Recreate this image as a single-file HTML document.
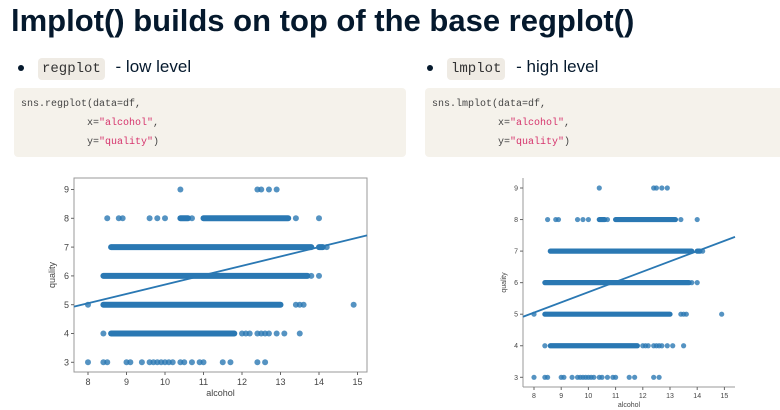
<!DOCTYPE html>
<html><head><meta charset="utf-8"><style>
body{margin:0;width:780px;height:410px;background:#fff;position:relative;overflow:hidden;font-family:"Liberation Sans",sans-serif;}
.abs{position:absolute;}
h1{position:absolute;left:11px;top:3px;margin:0;font-size:31px;font-weight:bold;color:#05192d;letter-spacing:0px;}
.bul{position:absolute;font-size:17px;color:#05192d;}
.bul .dot{display:inline-block;width:6px;height:6px;border-radius:50%;background:#05192d;margin-right:14px;vertical-align:middle;}
.ic{font-family:"Liberation Mono",monospace;font-size:14px;background:#efebe4;border-radius:4px;padding:3px 4px;color:#333;margin-right:6px;}
.code{position:absolute;background:#f5f2eb;border-radius:4px;font-family:"Liberation Mono",monospace;font-size:10px;color:#444;line-height:19px;padding:7px 0 0 7px;box-sizing:border-box;white-space:pre;}
.s{color:#d6336c;}
svg text{font-family:"Liberation Sans",sans-serif;fill:#444;}
</style></head><body>
<h1>lmplot() builds on top of the base regplot()</h1>
<div class="bul" style="left:18px;top:57px"><span class="dot"></span><span class="ic">regplot</span> - low level</div>
<div class="bul" style="left:427px;top:57px"><span class="dot"></span><span class="ic">lmplot</span> - high level</div>
<div class="code" style="left:14px;top:88px;width:392px;height:69px">sns.regplot(data=df,
           x=<span class="s">"alcohol"</span>,
           y=<span class="s">"quality"</span>)</div>
<div class="code" style="left:425px;top:88px;width:360px;height:69px">sns.lmplot(data=df,
           x=<span class="s">"alcohol"</span>,
           y=<span class="s">"quality"</span>)</div>
<svg id="c1" class="abs" style="left:0;top:0" width="780" height="410"></svg>
<script>
const qualities=[9,8,7,6,5,4,3];
const singles=[
 [10.4,12.4,12.5,12.7,12.9],
 [8.5,8.8,8.9,9.6,9.8,10.0,10.7,13.4,14.0],
 [14.2],
 [13.8,14.0],
 [8.0,13.4,13.5,13.6,14.9],
 [8.4,12.0,12.1,12.2,12.4,12.5,12.6,12.7,12.9,13.1,13.5],
 [8.0,8.4,8.5,9.0,9.1,9.4,9.6,9.7,9.8,9.9,10.0,10.1,10.2,10.4,10.5,10.7,10.9,11.0,11.5,11.7,12.4,12.6]
];
const denseRanges=[
 [],
 [[10.4,10.6],[11.0,13.2]],
 [[8.6,13.8],[14.0,14.1]],
 [[8.4,13.7]],
 [[8.4,13.0]],
 [[8.6,11.8]],
 []
];
const xTicks=[8,9,10,11,12,13,14,15];
const yTicks=[3,4,5,6,7,8,9];
const regIntercept=2.45, regSlope=0.325;
const NS="http://www.w3.org/2000/svg";
const svg=document.getElementById('c1');
function mk(t,a,p){const e=document.createElementNS(NS,t);for(const k in a)e.setAttribute(k,a[k]);(p||svg).appendChild(e);return e;}
function chart(o){
 const g=mk('g',{});
 
 
 const X=v=>o.x0+(v-8)*o.xu, Y=v=>o.y3-(v-3)*o.yu;
 if(o.box){const r=mk('rect',{x:o.L,y:o.T,width:o.R-o.L,height:o.B-o.T,fill:'none',stroke:'#999','stroke-width':1},g);
  }
 else{mk('line',{x1:o.L,y1:o.T,x2:o.L,y2:o.B,stroke:'#999'},g);mk('line',{x1:o.L,y1:o.B,x2:o.R,y2:o.B,stroke:'#999'},g);}
 xTicks.forEach(t=>{mk('line',{x1:X(t),x2:X(t),y1:o.B,y2:o.B+3,stroke:'#666'},g);
  const tx=mk('text',{x:X(t),y:o.B+4+o.fs,'font-size':o.fs,'text-anchor':'middle'},g);tx.textContent=t;
  });
 yTicks.forEach(t=>{mk('line',{x1:o.L-3,x2:o.L,y1:Y(t),y2:Y(t),stroke:'#666'},g);
  const tx=mk('text',{x:o.L-5,y:Y(t)+o.fs*0.35,'font-size':o.fs,'text-anchor':'end'},g);tx.textContent=t;
  });
 const xl=mk('text',{x:(o.L+o.R)/2,y:o.B+2*o.fs+6,'font-size':o.fs,'text-anchor':'middle'},g);xl.textContent='alcohol';
 
 const yl=mk('text',{x:0,y:0,'font-size':o.fs,'text-anchor':'middle',transform:`translate(${o.L-o.fs-10},${(o.T+o.B)/2}) rotate(-90)`},g);yl.textContent='quality';
 
 qualities.forEach((q,i)=>{
  denseRanges[i].forEach(([a,b])=>{
   const r=mk('line',{x1:X(a),x2:X(b),y1:Y(q),y2:Y(q),stroke:'#2a78b3','stroke-width':o.r*2,'stroke-linecap':'round'},g);
   });
  singles[i].forEach(v=>{
   const c=mk('circle',{cx:X(v),cy:Y(q),r:o.r,fill:'#2a78b3','fill-opacity':0.8},g);
   });
 });
 const xa=8+(o.L-o.x0)/o.xu, xb=8+(o.R-o.x0)/o.xu;
 const ln=mk('line',{x1:o.L,y1:Y(regIntercept+regSlope*xa),x2:o.R,y2:Y(regIntercept+regSlope*xb),stroke:'#2a78b3','stroke-width':1.8},g);
 
}
chart({name:'regplot-chart',box:true,L:74,R:367,T:178,B:372,x0:88,xu:38.5,y3:362.3,yu:28.8,fs:9,r:3});
chart({name:'lmplot-chart',box:false,L:523,R:735,T:178,B:387,x0:534,xu:27.2,y3:377.3,yu:31.55,fs:7,r:2.6});
</script>
</body></html>
